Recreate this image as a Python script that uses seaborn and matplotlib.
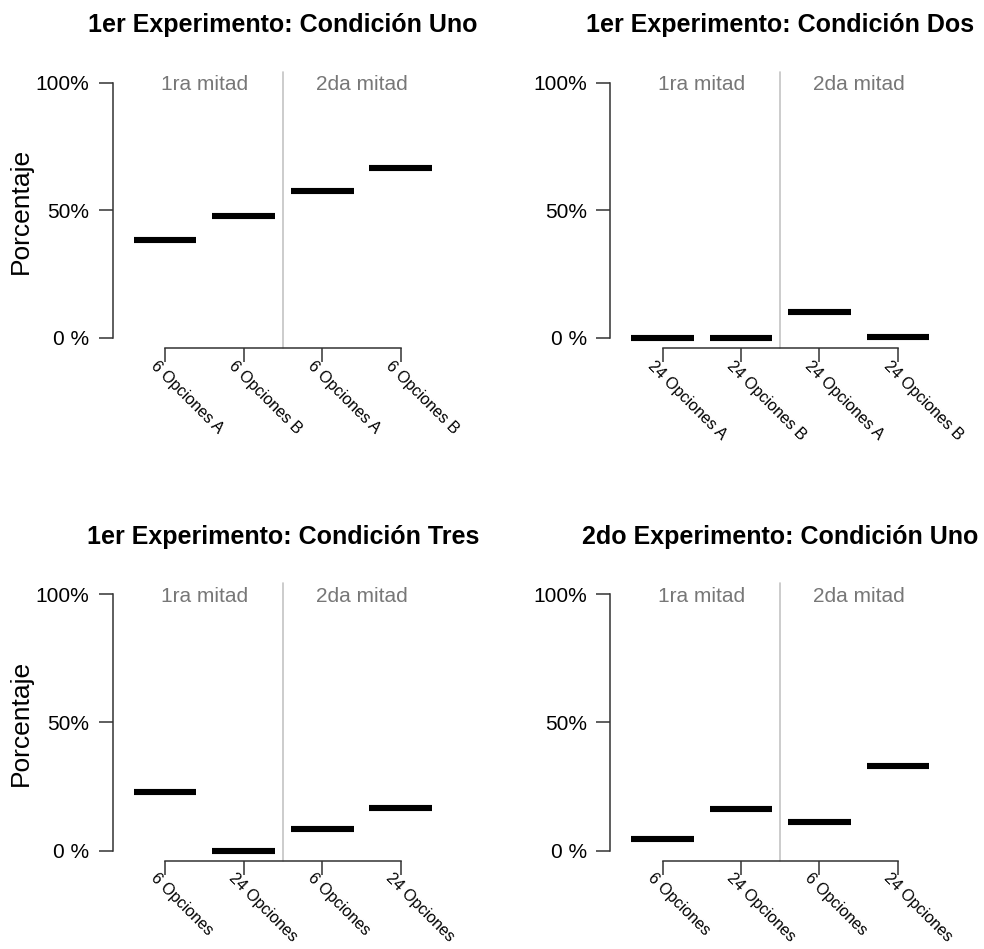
import matplotlib
matplotlib.use("Agg")
import matplotlib.pyplot as plt
from matplotlib.transforms import offset_copy
import numpy as np
import pandas as pd
import seaborn as sns

# ---- data ---------------------------------------------------------------
titles = [
    "1er Experimento: Condición Uno",
    "1er Experimento: Condición Dos",
    "1er Experimento: Condición Tres",
    "2do Experimento: Condición Uno",
]
labels_c1 = ["6 Opciones A", "6 Opciones B", "6 Opciones A", "6 Opciones B"]
labels_c2 = ["24 Opciones A", "24 Opciones B", "24 Opciones A", "24 Opciones B"]
labels_c3 = ["6 Opciones", "24 Opciones", "6 Opciones", "24 Opciones"]
labels_e2 = ["6 Opciones", "24 Opciones", "6 Opciones", "24 Opciones"]

pct_c1 = [38.5, 47.6, 57.7, 66.7]
pct_c2 = [0.0, 0.0, 10.0, 0.5]
pct_c3 = [22.9, 0.0, 8.3, 16.7]
pct_e2 = [4.5, 16.1, 11.3, 33.0]

halves = ["1ra mitad", "2da mitad"]
y_ticks = [0, 50, 100]
y_ticklabels = ["0 %", "50%", "100%"]

panels = [
    (titles[0], labels_c1, pct_c1),
    (titles[1], labels_c2, pct_c2),
    (titles[2], labels_c3, pct_c3),
    (titles[3], labels_e2, pct_e2),
]

# ---- style --------------------------------------------------------------
sns.set_theme(style="ticks")
plt.rcParams["font.family"] = ["Liberation Sans", "DejaVu Sans"]
spine_col = "#333333"
plt.rcParams.update({
    "axes.edgecolor": spine_col,
    "axes.linewidth": 1.1,
    "xtick.color": spine_col,
    "ytick.color": spine_col,
    "xtick.labelcolor": "black",
    "ytick.labelcolor": "black",
    "text.color": "black",
    "axes.labelcolor": "black",
    "axes.titlecolor": "black",
})

fig = plt.figure(figsize=(9.84, 9.49), dpi=100)

# axes boxes in figure fractions (left, bottom, width, height)
boxes = [
    (0.1277, 0.6385, 0.3195, 0.2879),
    (0.6336, 0.6385, 0.3187, 0.2879),
    (0.1277, 0.0982, 0.3195, 0.2894),
    (0.6336, 0.0982, 0.3187, 0.2894),
]

half_w = 0.4
for k, ((title, cats, vals), box) in enumerate(zip(panels, boxes)):
    ax = fig.add_axes(box)
    pos = np.arange(len(cats))
    # each value is drawn as a short horizontal segment centred on its category
    df = pd.DataFrame({
        "x": np.concatenate([pos - half_w, pos + half_w]),
        "y": np.concatenate([vals, vals]),
        "unit": np.concatenate([pos, pos]),
    })
    sns.lineplot(data=df, x="x", y="y", units="unit", estimator=None,
                 color="black", linewidth=4.4, solid_capstyle="butt",
                 legend=False, ax=ax, clip_on=False)

    ax.set_xlim(-0.5, len(cats) - 0.5)
    ax.set_ylim(-2, 105)
    ax.set_yticks(y_ticks)
    ax.set_xticks(pos)
    sns.despine(ax=ax, offset={"left": 9.4, "bottom": 3.6}, trim=True)

    ax.set_yticks(y_ticks, y_ticklabels, fontsize=15)
    ax.set_xticks(pos, cats, fontsize=11.5, rotation=-45, ha="left",
                  va="center", rotation_mode="anchor")
    ax.tick_params(axis="both", length=10, width=1.1, pad=7)
    ax.tick_params(axis="x", pad=1)
    ax.set_xlabel("")
    ax.set_ylabel("")

    # divider between the two halves
    ax.plot([1.5, 1.5], [-3.9, 104.3], color="#c4c4c4", lw=1.2, clip_on=False,
            zorder=0)
    for hx, htxt in zip([0.5, 2.5], halves):
        ax.text(hx, 100, htxt, color="#777777", fontsize=15, ha="center",
                va="center_baseline")

    ax.set_title(title, fontsize=18, fontweight="bold", pad=27)

    if k % 2 == 0:
        ax.set_ylabel("Porcentaje", fontsize=19)
        ax.yaxis.set_label_coords(-0.295, 0.484)

    for lbl in ax.get_xticklabels():
        lbl.set_transform(offset_copy(lbl.get_transform(), fig=fig,
                                      x=-12, y=0, units="dots"))

fig.savefig("out.png", dpi=100)
